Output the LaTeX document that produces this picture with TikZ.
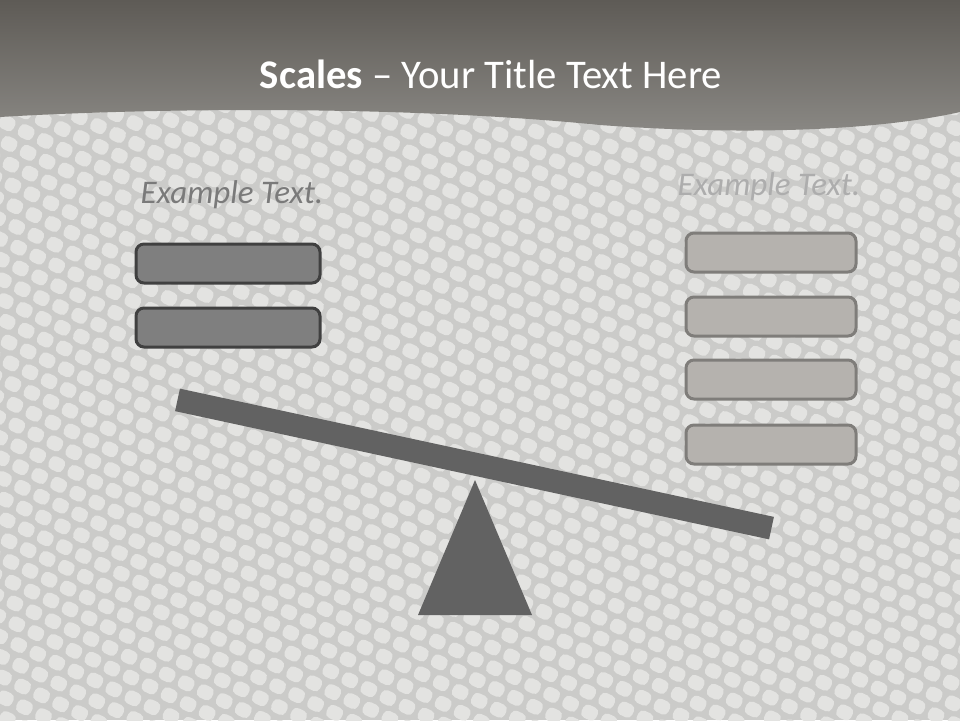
\documentclass[tikz,border=0pt]{standalone}
\usepackage{fontspec}
\setmainfont{Carlito}
\definecolor{bgc}{HTML}{CBCBC9}
\definecolor{scalec}{HTML}{E3E3E1}
\definecolor{bandtop}{HTML}{5E5B56}
\definecolor{bandbot}{HTML}{8B8985}
\definecolor{darkbox}{HTML}{7F7F7F}
\definecolor{darkedge}{HTML}{404040}
\definecolor{lightbox}{HTML}{B5B2AE}
\definecolor{lightedge}{HTML}{7F7D7A}
\definecolor{beamc}{HTML}{626262}
\tikzset{
  leftbox/.style={draw=darkedge, line width=3pt, fill=darkbox, rounded corners=8pt},
  rightbox/.style={draw=lightedge, line width=3pt, fill=lightbox, rounded corners=8pt},
  extext/.style={font=\itshape\fontsize{33}{38}\selectfont, anchor=base},
  scalecell/.style={fill=scalec, rounded corners=5pt},
}
\begin{document}
\begin{tikzpicture}[x=1pt,y=-1pt]
\useasboundingbox (0,0) rectangle (960,720);
\fill[bgc] (0,0) rectangle (960,720);
% scale texture
\begin{scope}
\clip (0,100) rectangle (960,720);
\begin{scope}[rotate around={-25:(480,400)}]
\foreach \i in {-15,...,55} {
  \foreach \j in {-12,...,50} {
    \pgfmathsetmacro{\xx}{\i*21 + mod(\j,2)*10.5}
    \pgfmathsetmacro{\yy}{\j*18}
    \fill[scalecell] (\xx,\yy) rectangle ++(16,14);
  }
}
\end{scope}
\end{scope}
% title band
\shade[top color=bandtop, bottom color=bandbot]
  (0,0) -- (960,0) -- (960,112)
  .. controls (880,130) and (750,136) .. (600,125)
  .. controls (400,105) and (150,108) .. (0,117) -- cycle;
\node[anchor=base, text=white, font=\fontsize{40.7}{48}\selectfont] (title) at (491,88)
  {\textbf{Scales} – Your Title Text Here};
% example texts
\node[extext, text=black!52] (lt) at (232,203) {Example Text.};
\node[extext, text=black!32] (rt) at (769,195) {Example Text.};
% left boxes
\draw[leftbox] (136,244) rectangle (320,283);
\draw[leftbox] (136,308) rectangle (320,347);
% right boxes
\draw[rightbox] (686,233) rectangle (856,272);
\draw[rightbox] (686,297) rectangle (856,336);
\draw[rightbox] (686,360) rectangle (856,399);
\draw[rightbox] (686,425) rectangle (856,464);
% beam and fulcrum
\coordinate (bl) at (178,400);
\coordinate (br) at (771,528);
\draw[beamc, line width=23pt, line cap=rect, shorten <=11pt, shorten >=11pt] (bl) -- (br);
\fill[beamc] (475,480) -- (532,615) -- (418,615) -- cycle;
\end{tikzpicture}
\end{document}
